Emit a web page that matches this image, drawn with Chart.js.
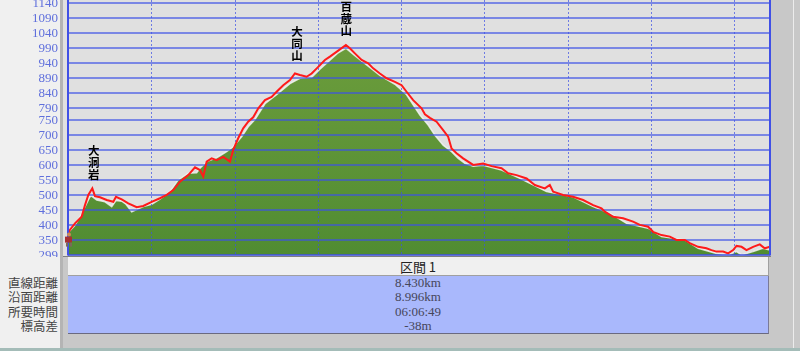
<!DOCTYPE html>
<html>
<head>
<meta charset="utf-8">
<script src="https://cdn.jsdelivr.net/npm/chart.js@4.4.0/dist/chart.umd.min.js"></script>
<style>
  html, body { margin: 0; padding: 0; background: #f0f0f0; }
  #wrap { position: relative; width: 800px; height: 351px; overflow: hidden; background: #f0f0f0; }
  #wrap div { position: absolute; }
  .frame { left: 60px; top: 0; width: 3px; height: 348px; background: #b4b4b4; }
  .side { left: 63px; top: 0; width: 737px; height: 348px; background: #c8c8c8; }
  .sideline { left: 793px; top: 0; width: 1px; height: 348px; background: #ececec; }
  .plotbg { left: 63px; top: 0; width: 707px; height: 256px; background: #e0e0e0; }
  canvas { position: absolute; left: 0; top: 0; }
  .head { left: 68px; top: 257px; width: 700px; height: 18px; background: #f0f0f0;
          border-right: 1px solid #a0a0a0; border-bottom: 1px solid #a0a0a0;
          font: 13px "Noto Sans CJK JP", sans-serif; color: #222; text-align: center; line-height: 19px; }
  .body { left: 68px; top: 276px; width: 700px; height: 57px; background: #a9b8fc;
          border-right: 1px solid #7a7a98; border-bottom: 1px solid #6a6a80;
          font: 13px "Liberation Serif", serif; color: #46465a; text-align: center; line-height: 14.3px; }
  .labels { left: 0; top: 276px; width: 58px; text-align: right;
            font: 12.5px "Noto Sans CJK JP", sans-serif; color: #444; line-height: 14.3px; }
  .taskbar { left: 0; top: 348px; width: 800px; height: 3px; background: #a4bcb8; }
</style>
</head>
<body>
<div id="wrap">
  <div class="frame"></div>
  <div class="side"></div>
  <div class="sideline"></div>
  <div class="plotbg"></div>
  <canvas id="profile" width="800" height="257"></canvas>
  <div class="head" id="head"></div>
  <div class="labels" id="labels"></div>
  <div class="body" id="values"></div>
  <div class="taskbar"></div>
</div>
<script>
// GPS track elevation (red line)
const trackKm = [0.000, 0.024, 0.084, 0.164, 0.204, 0.244, 0.292, 0.324, 0.384, 0.465,
  0.544, 0.576, 0.645, 0.724, 0.825, 0.904, 1.005, 1.104, 1.185, 1.264,
  1.345, 1.444, 1.525, 1.585, 1.624, 1.665, 1.725, 1.785, 1.864, 1.945,
  1.984, 2.044, 2.104, 2.164, 2.224, 2.285, 2.365, 2.445, 2.505, 2.585,
  2.665, 2.725, 2.785, 2.866, 2.926, 3.005, 3.085, 3.145, 3.245, 3.337,
  3.385, 3.445, 3.526, 3.605, 3.665, 3.745, 3.826, 3.926, 4.006, 4.066,
  4.145, 4.246, 4.286, 4.346, 4.426, 4.505, 4.565, 4.606, 4.666, 4.745,
  4.866, 4.986, 5.086, 5.206, 5.286, 5.386, 5.507, 5.606, 5.726, 5.786,
  5.826, 5.946, 6.066, 6.186, 6.306, 6.407, 6.447, 6.546, 6.666, 6.786,
  6.867, 6.966, 7.026, 7.127, 7.227, 7.307, 7.407, 7.467, 7.567, 7.667,
  7.727, 7.787, 7.867, 7.927, 7.987, 8.028, 8.088, 8.148, 8.227, 8.307,
  8.367, 8.430];
const trackElev = [372, 385, 406, 428, 467, 501, 523, 497, 493, 484,
  478, 495, 486, 473, 460, 464, 478, 490, 501, 517,
  545, 567, 593, 584, 562, 612, 623, 617, 628, 612,
  651, 690, 723, 745, 760, 790, 817, 828, 845, 867,
  884, 906, 901, 895, 906, 928, 951, 962, 982, 1001,
  990, 973, 951, 940, 923, 906, 890, 878, 867, 845,
  817, 790, 770, 758, 745, 717, 695, 656, 640, 623,
  601, 606, 597, 590, 573, 567, 556, 534, 523, 534,
  512, 501, 495, 484, 467, 456, 445, 428, 423, 412,
  401, 395, 378, 367, 362, 351, 351, 340, 328, 323,
  317, 312, 312, 306, 317, 331, 328, 317, 328, 336,
  323, 328];

// terrain elevation (green area)
const terrainKm = [0.000, 0.084, 0.144, 0.224, 0.264, 0.284, 0.345, 0.444, 0.525, 0.576,
  0.645, 0.696, 0.765, 0.825, 0.904, 1.005, 1.104, 1.224, 1.324, 1.444,
  1.545, 1.585, 1.665, 1.785, 1.905, 1.984, 2.085, 2.164, 2.245, 2.365,
  2.505, 2.665, 2.785, 2.926, 3.025, 3.245, 3.337, 3.445, 3.605, 3.745,
  3.926, 4.066, 4.226, 4.325, 4.406, 4.505, 4.606, 4.686, 4.766, 4.866,
  4.986, 5.206, 5.426, 5.747, 6.066, 6.306, 6.507, 6.707, 6.966, 7.127,
  7.407, 7.567, 7.787, 7.927, 8.028, 8.088, 8.227, 8.343, 8.430];
const terrainElev = [375, 400, 428, 473, 495, 497, 484, 478, 462, 482,
  480, 470, 445, 452, 462, 470, 487, 512, 551, 573,
  575, 590, 612, 625, 645, 662, 695, 728, 752, 805,
  835, 872, 890, 893, 920, 975, 990, 965, 930, 900,
  870, 835, 767, 734, 700, 667, 645, 623, 606, 597,
  600, 584, 556, 512, 495, 462, 440, 406, 390, 362,
  351, 323, 306, 301, 312, 301, 312, 323, 317];

const elevTicks = [299, 350, 400, 450, 500, 550, 600, 650, 700, 750, 790, 840, 890, 940, 990, 1040, 1090, 1140];
const kmTicks = [1, 2, 3, 4, 5, 6, 7, 8];

const peakNames = ['大洞岩', '大同山', '百蔵山'];
const peakKm = [0.31, 2.75, 3.34];
const peakElev = [523, 920, 1001];

const sectionName = '区間 1';
const rowLabels = ['直線距離', '沿面距離', '所要時間', '標高差'];
const rowValues = ['8.430km', '8.996km', '06:06:49', '-38m'];

document.getElementById('head').textContent = sectionName;
document.getElementById('labels').innerHTML = rowLabels.join('<br>');
document.getElementById('values').innerHTML = rowValues.join('<br>');

function toPoints(xs, ys) {
  return xs.map((x, i) => ({ x: x, y: ys[i] }));
}

function terrainFill(context) {
  const area = context.chart.chartArea;
  if (!area) return '#5a8f38';
  const g = context.chart.ctx.createLinearGradient(0, area.top, 0, area.bottom);
  g.addColorStop(0, '#72a03e');
  g.addColorStop(1, '#508c32');
  return g;
}

// grid goes over the green area but under the red track
const gridOverTerrain = {
  id: 'gridOverTerrain',
  afterDatasetDraw(chart, args) {
    if (args.index !== 1) return;
    const ctx = chart.ctx;
    const a = chart.chartArea;
    const x = chart.scales.x;
    const y = chart.scales.y;
    ctx.save();
    ctx.beginPath();
    ctx.rect(a.left, a.top, a.right - a.left, a.bottom - a.top);
    ctx.clip();
    ctx.strokeStyle = 'rgba(60,80,230,0.62)';
    ctx.lineWidth = 2;
    elevTicks.forEach(v => {
      if (v === y.min) return;
      const py = Math.round(y.getPixelForValue(v));
      ctx.beginPath();
      ctx.moveTo(a.left, py);
      ctx.lineTo(a.right, py);
      ctx.stroke();
    });
    ctx.lineWidth = 1;
    ctx.setLineDash([2, 2]);
    ctx.strokeStyle = 'rgba(60,80,230,0.7)';
    kmTicks.forEach(v => {
      const px = Math.round(x.getPixelForValue(v)) + 0.5;
      ctx.beginPath();
      ctx.moveTo(px, a.top);
      ctx.lineTo(px, a.bottom);
      ctx.stroke();
    });
    ctx.restore();
  }
};

const frameAndLabels = {
  id: 'frameAndLabels',
  afterDraw(chart) {
    const ctx = chart.ctx;
    const a = chart.chartArea;
    const x = chart.scales.x;
    const y = chart.scales.y;
    ctx.save();
    // borders
    ctx.strokeStyle = '#4050e6';
    ctx.lineWidth = 2;
    ctx.beginPath();
    ctx.moveTo(a.left, a.top);
    ctx.lineTo(a.left, a.bottom);
    ctx.moveTo(a.right, a.top);
    ctx.lineTo(a.right, a.bottom);
    ctx.stroke();
    ctx.lineWidth = 1.5;
    ctx.beginPath();
    ctx.moveTo(a.left, a.bottom - 0.5);
    ctx.lineTo(a.right, a.bottom - 0.5);
    ctx.stroke();
    ctx.strokeStyle = '#808080';
    ctx.lineWidth = 1;
    ctx.beginPath();
    ctx.moveTo(a.left - 5, a.bottom + 1);
    ctx.lineTo(a.right + 1, a.bottom + 1);
    ctx.stroke();

    // peak names, stacked vertically
    ctx.fillStyle = '#000';
    ctx.font = 'bold 11.5px "Noto Sans CJK JP", sans-serif';
    ctx.textAlign = 'center';
    ctx.textBaseline = 'middle';
    peakNames.forEach((name, i) => {
      const px = x.getPixelForValue(peakKm[i]);
      const bottom = y.getPixelForValue(peakElev[i]) - 9;
      const chars = Array.from(name);
      chars.forEach((c, j) => {
        ctx.fillText(c, px, bottom - (chars.length - 1 - j) * 12 - 5);
      });
    });

    // hiker mark at the start
    const hx = x.getPixelForValue(trackKm[0]);
    const hy = y.getPixelForValue(trackElev[0]);
    ctx.fillStyle = '#d08a50';
    ctx.beginPath();
    ctx.arc(hx + 1, hy + 1, 2, 0, Math.PI * 2);
    ctx.fill();
    ctx.fillStyle = '#a83030';
    ctx.fillRect(hx - 3, hy + 3, 7, 6);
    ctx.fillStyle = '#7a6a5a';
    ctx.fillRect(hx - 2, hy + 9, 2, 4);
    ctx.fillRect(hx + 2, hy + 9, 2, 4);
    ctx.restore();
  }
};

new Chart(document.getElementById('profile'), {
  type: 'line',
  data: {
    datasets: [{
      label: 'GPS',
      data: toPoints(trackKm, trackElev),
      borderColor: '#ff1a1a',
      borderWidth: 2,
      pointRadius: 0,
      fill: false,
      tension: 0,
      order: 0
    }, {
      label: '地形',
      data: toPoints(terrainKm, terrainElev),
      borderColor: 'rgba(245,245,245,0.8)',
      borderWidth: 1.5,
      backgroundColor: terrainFill,
      fill: 'start',
      pointRadius: 0,
      tension: 0,
      order: 1
    }]
  },
  options: {
    responsive: false,
    animation: false,
    events: [],
    layout: { padding: { left: 0, right: 30, top: 0, bottom: 1.5 } },
    plugins: { legend: { display: false }, tooltip: { enabled: false } },
    scales: {
      x: {
        type: 'linear',
        min: 0,
        max: 8.43,
        afterBuildTicks: s => { s.ticks = kmTicks.map(v => ({ value: v })); },
        afterFit: s => { s.height = 0; s.paddingLeft = 0; s.paddingRight = 0; },
        grid: { display: false, drawTicks: false },
        border: { display: false },
        ticks: { display: false }
      },
      y: {
        min: 299,
        max: 1151,
        afterBuildTicks: s => { s.ticks = elevTicks.map(v => ({ value: v })); },
        afterFit: s => { s.width = 68; s.paddingTop = 0; s.paddingBottom = 0; },
        grid: { display: false, drawTicks: false },
        border: { display: false },
        ticks: {
          color: '#5f6fdc',
          font: { family: 'Liberation Serif', size: 13 },
          padding: 10,
          autoSkip: false,
          callback: v => String(v)
        }
      }
    }
  },
  plugins: [gridOverTerrain, frameAndLabels]
});
</script>
</body>
</html>
